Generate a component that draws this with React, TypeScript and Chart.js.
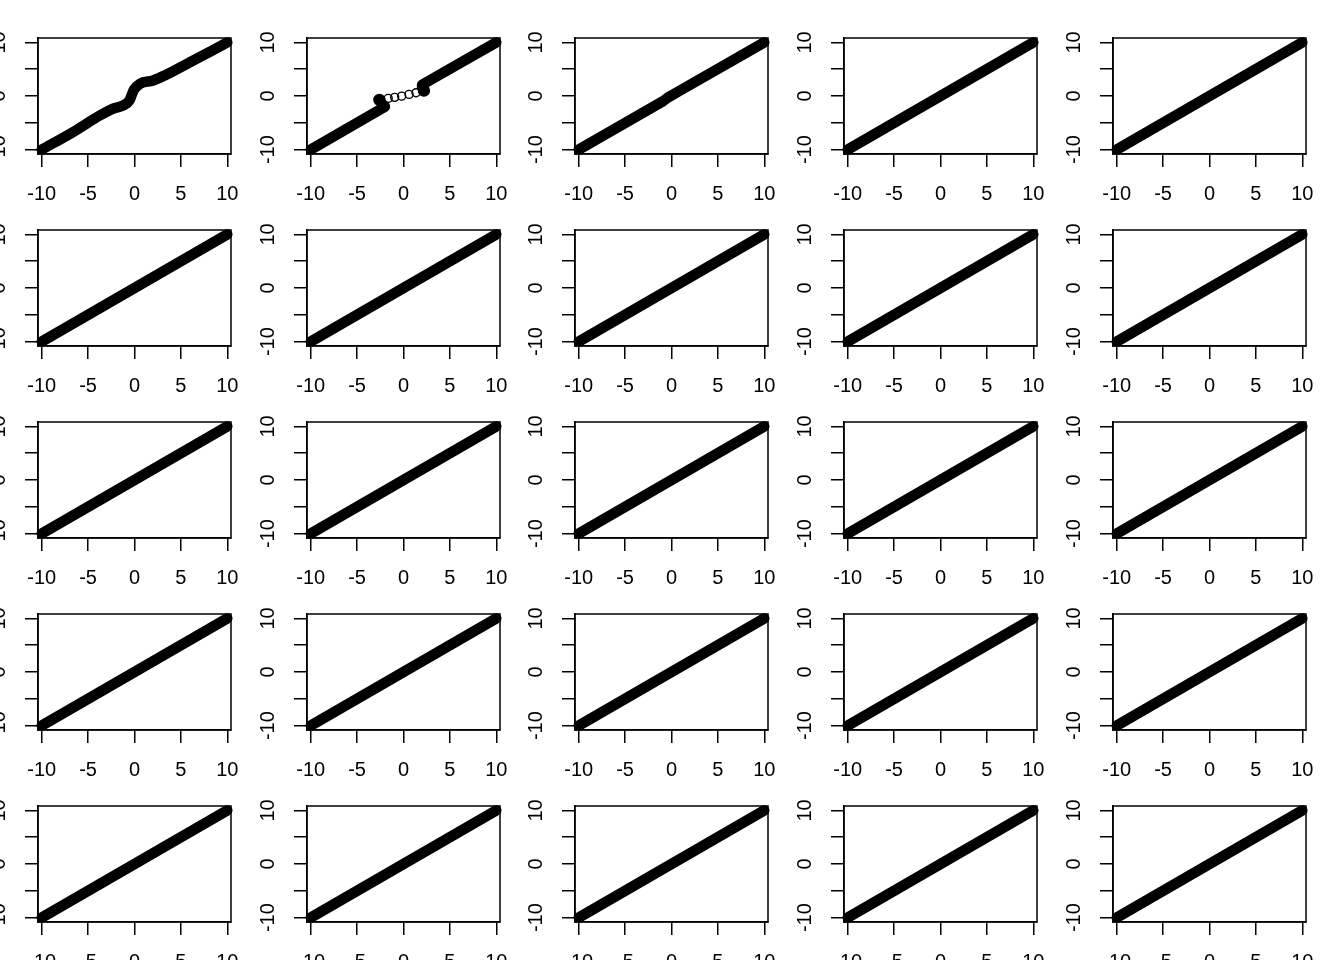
import React, { useEffect, useRef } from 'react';
import { Chart, registerables } from 'chart.js';

Chart.register(...registerables);

// axis ticks (same on every panel)
const X_TICKS = [-10, -5, 0, 5, 10];
const X_TICK_LABELS = ['-10', '-5', '0', '5', '10'];
const Y_TICKS = [-10, -5, 0, 5, 10];
const Y_TICK_LABELS = ['-10', '', '0', '', '10'];

// panel 1: curve with an S step around 0
const P1_X = [-10, -6.6, -3.7, -2.3, -1.2, -0.55, -0.3, -0.05, 0.6, 2.0, 3.3, 6.0, 10];
const P1_Y = [-10, -6.7, -3.6, -2.35, -1.75, -0.85, 0.2, 1.2, 2.3, 2.9, 3.85, 6.3, 10];

// panel 2: two dense arms, sparse points in the gap
const P2_LOW_X = [-10, -2.0, -2.4];
const P2_LOW_Y = [-10, -2.0, -1.3];
const P2_HIGH_X = [2.2, 2.0, 2.0, 10];
const P2_HIGH_Y = [1.1, 1.7, 2.1, 10];
const P2_BLOB_X = [-2.6, 2.2];
const P2_BLOB_Y = [-0.72, 1.0];
const P2_OPEN_X = [-1.65, -0.95, -0.2, 0.6, 1.35];
const P2_OPEN_Y = [-0.45, -0.25, -0.03, 0.3, 0.6];

// panel 3: nearly straight, small kink at 0
const P3_X = [-10, -0.9, -0.4, 0.6, 10];
const P3_Y = [-10, -0.95, -0.3, 0.7, 10];

// panels 4..25: identity line
const LINE_X = [-10, 10];
const LINE_Y = [-10, 10];

const COLS = 5;
const ROWS = 5;
const CELL_W = 268.8;
const CELL_H = 192;
const BOX_L = 37.7;
const BOX_T = 37.7;
const BOX_W = 193;
const BOX_H = 116;
const Y_AXIS_W = 50;
const X_AXIS_H = 60;
const PAD_T = 10;
const PAD_R = 10;

const FONT = { family: '"Liberation Sans", Arial, Helvetica, sans-serif', size: 20 };

const pts = (xs: number[], ys: number[]) => xs.map((x, i) => ({ x, y: ys[i] }));

const band = (xs: number[], ys: number[], smooth: boolean) => ({
  data: pts(xs, ys),
  showLine: true,
  borderColor: '#000',
  borderWidth: 10.5,
  borderCapStyle: 'round',
  borderJoinStyle: 'round',
  pointRadius: 0,
  pointHoverRadius: 0,
  tension: smooth ? 0.4 : 0,
  cubicInterpolationMode: smooth ? 'monotone' : 'default',
  clip: false,
});

function panelDatasets(i: number): any[] {
  if (i === 0) return [band(P1_X, P1_Y, true)];
  if (i === 1) {
    return [
      band(P2_LOW_X, P2_LOW_Y, false),
      band(P2_HIGH_X, P2_HIGH_Y, false),
      {
        data: pts(P2_BLOB_X, P2_BLOB_Y),
        pointRadius: 5.5,
        pointBorderWidth: 1.4,
        pointBackgroundColor: '#000',
        pointBorderColor: '#000',
        clip: false,
      },
      {
        data: pts(P2_OPEN_X, P2_OPEN_Y),
        pointRadius: 4,
        pointBorderWidth: 1.4,
        pointBackgroundColor: 'rgba(0,0,0,0)',
        pointBorderColor: '#000',
        clip: false,
      },
    ];
  }
  if (i === 2) return [band(P3_X, P3_Y, false)];
  return [band(LINE_X, LINE_Y, false)];
}

// no extra room for labels that hang past the box ends
const noScalePadding = (s: any) => {
  s.paddingTop = 0;
  s.paddingBottom = 0;
  s.paddingLeft = 0;
  s.paddingRight = 0;
};

const boxPlugin = {
  id: 'rbox',
  afterDraw(chart: any) {
    const { ctx, chartArea: a } = chart;
    ctx.save();
    ctx.strokeStyle = '#000';
    ctx.lineWidth = 1.5;
    ctx.strokeRect(a.left, a.top, a.right - a.left, a.bottom - a.top);
    ctx.restore();
  },
};

const Panel: React.FC<{ index: number }> = ({ index }) => {
  const canvasRef = useRef<HTMLCanvasElement | null>(null);

  useEffect(() => {
    if (!canvasRef.current) return;
    const chart = new Chart(canvasRef.current, {
      type: 'scatter',
      data: { datasets: panelDatasets(index) },
      options: {
        animation: false,
        responsive: true,
        maintainAspectRatio: false,
        events: [],
        layout: { padding: { top: PAD_T, right: PAD_R, left: 0, bottom: 0 } },
        plugins: { legend: { display: false }, tooltip: { enabled: false } },
        scales: {
          x: {
            type: 'linear',
            min: -10.4,
            max: 10.4,
            afterBuildTicks: (s: any) => {
              s.ticks = X_TICKS.map((v) => ({ value: v }));
            },
            afterFit: (s: any) => {
              s.height = X_AXIS_H;
              noScalePadding(s);
            },
            grid: { drawOnChartArea: false, drawTicks: true, tickLength: 13, color: '#000', lineWidth: 1.5 },
            border: { display: true, color: '#000', width: 1.5 },
            ticks: {
              autoSkip: false,
              maxRotation: 0,
              padding: 15,
              color: '#000',
              font: FONT,
              callback: (_v: any, i: number) => X_TICK_LABELS[i],
            },
          },
          y: {
            type: 'linear',
            min: -10.82,
            max: 10.82,
            afterBuildTicks: (s: any) => {
              s.ticks = Y_TICKS.map((v) => ({ value: v }));
            },
            afterFit: (s: any) => {
              s.width = Y_AXIS_W;
              noScalePadding(s);
            },
            grid: { drawOnChartArea: false, drawTicks: true, tickLength: 13, color: '#000', lineWidth: 1.5 },
            border: { display: true, color: '#000', width: 1.5 },
            ticks: {
              autoSkip: false,
              minRotation: 90,
              maxRotation: 90,
              crossAlign: 'center',
              padding: 11,
              color: '#000',
              font: FONT,
              callback: (_v: any, i: number) => Y_TICK_LABELS[i],
            },
          },
        },
      } as any,
      plugins: [boxPlugin],
    });
    return () => {
      chart.destroy();
    };
  }, [index]);

  const col = index % COLS;
  const row = Math.floor(index / COLS);
  return (
    <div
      style={{
        position: 'absolute',
        left: BOX_L + col * CELL_W - Y_AXIS_W,
        top: BOX_T + row * CELL_H - PAD_T,
        width: Y_AXIS_W + BOX_W + PAD_R,
        height: PAD_T + BOX_H + X_AXIS_H,
      }}
    >
      <canvas ref={canvasRef} />
    </div>
  );
};

export default function App() {
  const panels = Array.from({ length: COLS * ROWS }, (_, i) => i);
  return (
    <div
      style={{
        position: 'fixed',
        left: 0,
        top: 0,
        width: 1344,
        height: 960,
        overflow: 'hidden',
        background: '#fff',
      }}
    >
      {panels.map((i) => (
        <Panel key={i} index={i} />
      ))}
    </div>
  );
}
